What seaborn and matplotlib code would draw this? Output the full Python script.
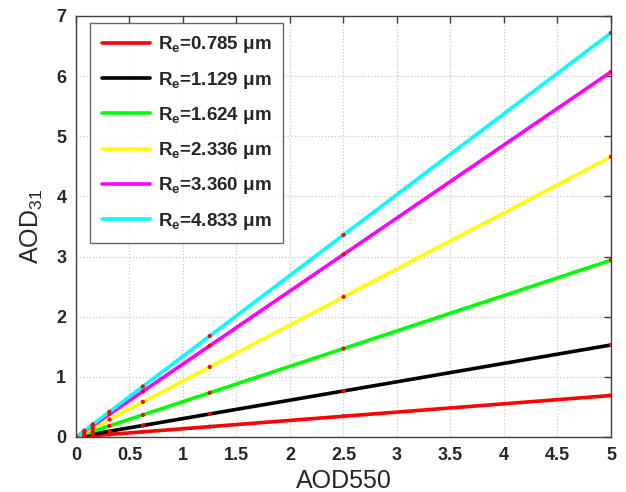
import matplotlib
matplotlib.use("Agg")
import matplotlib.pyplot as plt
import seaborn as sns
import pandas as pd

x_vals = [0, 0.078125, 0.15625, 0.3125, 0.625, 1.25, 2.5, 5]
labels = ["0.785", "1.129", "1.624", "2.336", "3.360", "4.833"]
colors = ["#ff0000", "#000000", "#00ff00", "#ffff00", "#ff00ff", "#00ffff"]
red_vals = [0, 0.011, 0.022, 0.043, 0.086, 0.172, 0.345, 0.69]
black_vals = [0, 0.024, 0.048, 0.096, 0.191, 0.383, 0.765, 1.53]
green_vals = [0, 0.046, 0.092, 0.184, 0.368, 0.735, 1.47, 2.94]
yellow_vals = [0, 0.073, 0.146, 0.291, 0.583, 1.165, 2.33, 4.66]
magenta_vals = [0, 0.095, 0.19, 0.379, 0.759, 1.517, 3.035, 6.07]
cyan_vals = [0, 0.105, 0.21, 0.42, 0.84, 1.68, 3.36, 6.72]
series = [red_vals, black_vals, green_vals, yellow_vals, magenta_vals, cyan_vals]

sns.set_style("white")
plt.rcParams['font.family'] = ['Liberation Sans', 'DejaVu Sans']
plt.rcParams['mathtext.fontset'] = 'custom'
plt.rcParams['mathtext.rm'] = 'Liberation Sans'
plt.rcParams['mathtext.bf'] = 'Liberation Sans:bold'

rows = []
for lab, vals in zip(labels, series):
    for xv, yv in zip(x_vals, vals):
        rows.append({"AOD550": xv, "AOD31": yv, "Re": lab})
df = pd.DataFrame(rows)

fig = plt.figure(figsize=(6.26, 4.92), dpi=100)
ax = fig.add_axes([0.1214, 0.1118, 0.8546, 0.8557])

hue_labels = [r"$\mathbf{R_e}$=" + l + " \u03bcm" for l in labels]
df["label"] = df["Re"].map(dict(zip(labels, hue_labels)))
sns.lineplot(data=df, x="AOD550", y="AOD31", hue="label", hue_order=hue_labels,
             palette=colors, linewidth=2.6, ax=ax, legend=True)
sns.scatterplot(data=df, x="AOD550", y="AOD31", color="#ff0000", s=9,
                edgecolor="none", ax=ax, legend=False, zorder=5)

ax.set_xlim(0, 5)
ax.set_ylim(0, 7)
ax.set_xticks([0, 0.5, 1, 1.5, 2, 2.5, 3, 3.5, 4, 4.5, 5])
ax.set_xticklabels(["0", "0.5", "1", "1.5", "2", "2.5", "3", "3.5", "4", "4.5", "5"])
ax.set_yticks(range(0, 8))
ax.grid(True, linestyle=":", color="#c8c8c8", linewidth=0.9)
ax.tick_params(direction="in", length=5, width=1, color="#404040",
               top=True, right=True, labelsize=13, pad=7)
for lbl in ax.get_xticklabels() + ax.get_yticklabels():
    lbl.set_fontweight("bold")
for s in ax.spines.values():
    s.set_color("#404040")
    s.set_linewidth(1.0)
ax.set_xlabel("AOD550", fontsize=18, labelpad=4)
ax.set_ylabel("AOD$_{31}$", fontsize=18, labelpad=8)

leg = ax.legend(loc="upper left", bbox_to_anchor=(0.027, 0.983), frameon=True,
                fancybox=False, edgecolor="#404040", borderaxespad=0,
                handlelength=2.6, labelspacing=0.76, borderpad=0.6,
                handletextpad=0.4, prop={"weight": "bold", "size": 13.5})
leg.get_frame().set_linewidth(1.0)
for lh in leg.get_lines():
    lh.set_linewidth(2.6)

fig.savefig("out.png", dpi=100)
